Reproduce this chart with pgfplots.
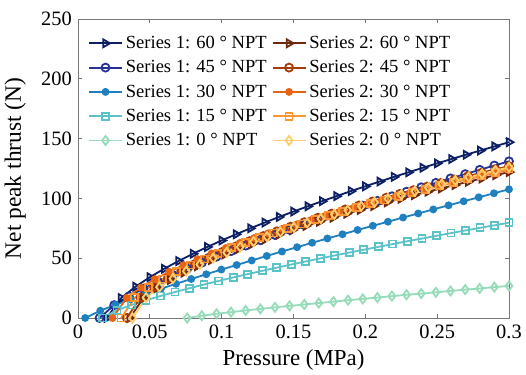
\documentclass[border=0pt]{standalone}
\usepackage{fontspec}
\setmainfont{Liberation Serif}
\usepackage{pgfplots}
\pgfplotsset{compat=1.18}
\definecolor{sa}{RGB}{12,30,100}
\definecolor{sb}{RGB}{37,52,148}
\definecolor{sc}{RGB}{31,128,192}
\definecolor{sd}{RGB}{90,195,200}
\definecolor{se}{RGB}{150,220,185}
\definecolor{ta}{RGB}{110,40,10}
\definecolor{tb}{RGB}{165,60,10}
\definecolor{tc}{RGB}{230,100,20}
\definecolor{td}{RGB}{253,150,50}
\definecolor{te}{RGB}{254,205,110}
\definecolor{axgray}{RGB}{120,120,120}
\begin{document}
\begin{tikzpicture}
\useasboundingbox (-78bp,-57bp) rectangle (448bp,318bp);
\begin{axis}[
  at={(0,0)}, anchor=south west,
  scale only axis, width=431bp, height=299bp,
  xmin=0, xmax=0.3, ymin=0, ymax=250,
  xtick={0,0.05,0.1,0.15,0.2,0.25,0.3},
  xticklabels={0,0.05,0.1,0.15,0.2,0.25,0.3},
  ytick={0,50,100,150,200,250},
  yticklabels={0,50,100,150,200,250},
  tick align=inside, major tick length=4bp,
  axis line style={axgray, line width=0.8bp},
  tick style={axgray, line width=0.8bp},
  xticklabel style={font=\fontsize{20.5}{24}\selectfont, inner sep=0pt, anchor=north, yshift=-7bp},
  yticklabel style={font=\fontsize{20.5}{24}\selectfont, inner sep=0pt, anchor=east, xshift=-6bp},
  xlabel={Pressure (MPa)},
  ylabel={Net peak thrust (N)},
  xlabel style={font=\fontsize{23}{26}\selectfont, at={(axis description cs:0.5,0)}, anchor=base, yshift=-47bp},
  ylabel style={font=\fontsize{23.5}{26}\selectfont, at={(axis description cs:0,0.5)}, anchor=base, rotate=0, yshift=57bp},
  clip=false,
  every axis plot/.append style={line width=1.8bp},
  legend columns=5, transpose legend,
  legend cell align=left,
  legend style={draw=none, fill=none, at={(0.023,0.96)}, anchor=north west,
    font=\fontsize{18.6}{22}\selectfont, inner sep=0pt, row sep=0pt,
    nodes={text height=14.3bp, text depth=4bp, inner ysep=3bp, inner xsep=3bp},
    /tikz/every even column/.append style={column sep=2bp}},
  legend image code/.code={\draw[mark repeat=2,mark phase=2] plot coordinates {(0bp,0bp) (16.5bp,0bp) (33bp,0bp)};},
]
% Series 1: 60
\addplot[color=sa, mark=triangle, mark size=4.5bp, mark options={rotate=-90, solid}] coordinates {
(0.02,0)(0.03,16.6)(0.04,26.2)(0.05,34.1)(0.06,41.2)(0.07,47.6)(0.08,53.7)(0.09,59.4)(0.10,64.8)(0.11,70.0)(0.12,75.0)(0.13,79.8)(0.14,84.5)(0.15,89.0)(0.16,93.4)(0.17,97.7)(0.18,101.9)(0.19,106.1)(0.20,110.1)(0.21,114.1)(0.22,118.0)(0.23,121.8)(0.24,125.6)(0.25,129.3)(0.26,132.9)(0.27,136.5)(0.28,140.0)(0.29,143.5)(0.30,147.0)};
\addlegendentry{Series 1: 60 ° NPT}
% Series 1: 45
\addplot[color=sb, mark=o, mark size=4bp] coordinates {
(0.0150,0)(0.0252,10.8)(0.0354,18.1)(0.0455,24.5)(0.0557,30.4)(0.0659,36.0)(0.0761,41.3)(0.0863,46.3)(0.0964,51.2)(0.1066,55.9)(0.1168,60.5)(0.1270,65.0)(0.1371,69.4)(0.1473,73.7)(0.1575,77.9)(0.1677,82.0)(0.1779,86.1)(0.1880,90.1)(0.1982,94.0)(0.2084,97.9)(0.2186,101.8)(0.2287,105.6)(0.2389,109.3)(0.2491,113.0)(0.2593,116.7)(0.2695,120.3)(0.2796,123.9)(0.2898,127.5)(0.3000,131.0)};
\addlegendentry{Series 1: 45 ° NPT}
% Series 1: 30
\addplot[color=sc, mark=*, mark size=3bp] coordinates {
(0.0050,0)(0.0155,6.1)(0.0261,11.1)(0.0366,15.7)(0.0471,20.1)(0.0577,24.4)(0.0682,28.6)(0.0788,32.6)(0.0893,36.6)(0.0998,40.5)(0.1104,44.3)(0.1209,48.1)(0.1314,51.9)(0.1420,55.6)(0.1525,59.2)(0.1630,62.9)(0.1736,66.5)(0.1841,70.0)(0.1946,73.6)(0.2052,77.1)(0.2157,80.5)(0.2263,84.0)(0.2368,87.4)(0.2473,90.8)(0.2579,94.2)(0.2684,97.6)(0.2789,100.9)(0.2895,104.3)(0.3000,107.6)};
\addlegendentry{Series 1: 30 ° NPT}
% Series 1: 15
\addplot[color=sd, mark=square, mark size=3.5bp] coordinates {
(0.0170,0)(0.0271,6.5)(0.0372,10.9)(0.0473,14.8)(0.0574,18.4)(0.0675,21.7)(0.0776,24.9)(0.0877,28.0)(0.0979,31.0)(0.1080,33.9)(0.1181,36.7)(0.1282,39.4)(0.1383,42.1)(0.1484,44.7)(0.1585,47.3)(0.1686,49.8)(0.1787,52.3)(0.1888,54.7)(0.1989,57.1)(0.2090,59.5)(0.2191,61.8)(0.2292,64.2)(0.2394,66.4)(0.2495,68.7)(0.2596,71.0)(0.2697,73.2)(0.2798,75.4)(0.2899,77.5)(0.3000,79.7)};
\addlegendentry{Series 1: 15 ° NPT}
% Series 1: 0
\addplot[color=se, mark=diamond, mark size=4.5bp] coordinates {
(0.0760,0)(0.0862,1.9)(0.0964,3.5)(0.1065,4.9)(0.1167,6.3)(0.1269,7.6)(0.1371,8.9)(0.1473,10.1)(0.1575,11.3)(0.1676,12.5)(0.1778,13.7)(0.1880,14.9)(0.1982,16.0)(0.2084,17.1)(0.2185,18.3)(0.2287,19.4)(0.2389,20.4)(0.2491,21.5)(0.2593,22.6)(0.2695,23.7)(0.2796,24.7)(0.2898,25.8)(0.3000,26.8)};
\addlegendentry{Series 1: 0 ° NPT}
% Series 2: 60
\addplot[color=ta, mark=triangle, mark size=4.5bp, mark options={rotate=-90, solid}] coordinates {
(0.0360,0)(0.0454,16.5)(0.0549,25.0)(0.0643,31.9)(0.0737,38.0)(0.0831,43.4)(0.0926,48.4)(0.1020,53.1)(0.1114,57.5)(0.1209,61.7)(0.1303,65.8)(0.1397,69.6)(0.1491,73.4)(0.1586,77.0)(0.1680,80.5)(0.1774,83.9)(0.1869,87.2)(0.1963,90.4)(0.2057,93.6)(0.2151,96.7)(0.2246,99.7)(0.2340,102.7)(0.2434,105.6)(0.2529,108.4)(0.2623,111.2)(0.2717,114.0)(0.2811,116.7)(0.2906,119.4)(0.3000,122.0)};
\addlegendentry{Series 2: 60 ° NPT}
% Series 2: 45
\addplot[color=tb, mark=o, mark size=4bp] coordinates {
(0.0340,0)(0.0435,17.2)(0.0530,26.1)(0.0625,33.2)(0.0720,39.5)(0.0815,45.2)(0.0910,50.4)(0.1005,55.3)(0.1100,59.9)(0.1195,64.3)(0.1290,68.5)(0.1385,72.5)(0.1480,76.4)(0.1575,80.1)(0.1670,83.8)(0.1765,87.3)(0.1860,90.8)(0.1955,94.1)(0.2050,97.4)(0.2145,100.6)(0.2240,103.8)(0.2335,106.9)(0.2430,109.9)(0.2525,112.9)(0.2620,115.8)(0.2715,118.7)(0.2810,121.5)(0.2905,124.3)(0.3000,127.0)};
\addlegendentry{Series 2: 45 ° NPT}
% Series 2: 30
\addplot[color=tc, mark=*, mark size=3bp] coordinates {
(0.0240,0)(0.0339,16.8)(0.0437,25.4)(0.0536,32.5)(0.0634,38.6)(0.0733,44.1)(0.0831,49.2)(0.0930,54.0)(0.1029,58.5)(0.1127,62.8)(0.1226,66.8)(0.1324,70.8)(0.1423,74.6)(0.1521,78.2)(0.1620,81.8)(0.1719,85.3)(0.1817,88.6)(0.1916,91.9)(0.2014,95.1)(0.2113,98.3)(0.2211,101.3)(0.2310,104.3)(0.2409,107.3)(0.2507,110.2)(0.2606,113.1)(0.2704,115.9)(0.2803,118.6)(0.2901,121.3)(0.3000,124.0)};
\addlegendentry{Series 2: 30 ° NPT}
% Series 2: 15
\addplot[color=td, mark=square, mark size=3.5bp] coordinates {
(0.0300,0)(0.0396,16.9)(0.0493,25.5)(0.0589,32.6)(0.0686,38.7)(0.0782,44.3)(0.0879,49.4)(0.0975,54.2)(0.1071,58.7)(0.1168,63.0)(0.1264,67.1)(0.1361,71.1)(0.1457,74.9)(0.1554,78.6)(0.1650,82.1)(0.1746,85.6)(0.1843,89.0)(0.1939,92.3)(0.2036,95.5)(0.2132,98.7)(0.2229,101.7)(0.2325,104.8)(0.2421,107.7)(0.2518,110.6)(0.2614,113.5)(0.2711,116.3)(0.2807,119.1)(0.2904,121.8)(0.3000,124.5)};
\addlegendentry{Series 2: 15 ° NPT}
% Series 2: 0
\addplot[color=te, mark=diamond, mark size=4.5bp] coordinates {
(0.0380,0)(0.0474,17.1)(0.0567,25.9)(0.0661,33.0)(0.0754,39.2)(0.0848,44.8)(0.0941,50.0)(0.1035,54.8)(0.1129,59.4)(0.1222,63.8)(0.1316,67.9)(0.1409,71.9)(0.1503,75.8)(0.1596,79.5)(0.1690,83.1)(0.1784,86.6)(0.1877,90.1)(0.1971,93.4)(0.2064,96.7)(0.2158,99.8)(0.2251,103.0)(0.2345,106.0)(0.2439,109.0)(0.2532,112.0)(0.2626,114.9)(0.2719,117.7)(0.2813,120.5)(0.2906,123.3)(0.3000,126.0)};
\addlegendentry{Series 2: 0 ° NPT}
\end{axis}
\end{tikzpicture}
\end{document}
